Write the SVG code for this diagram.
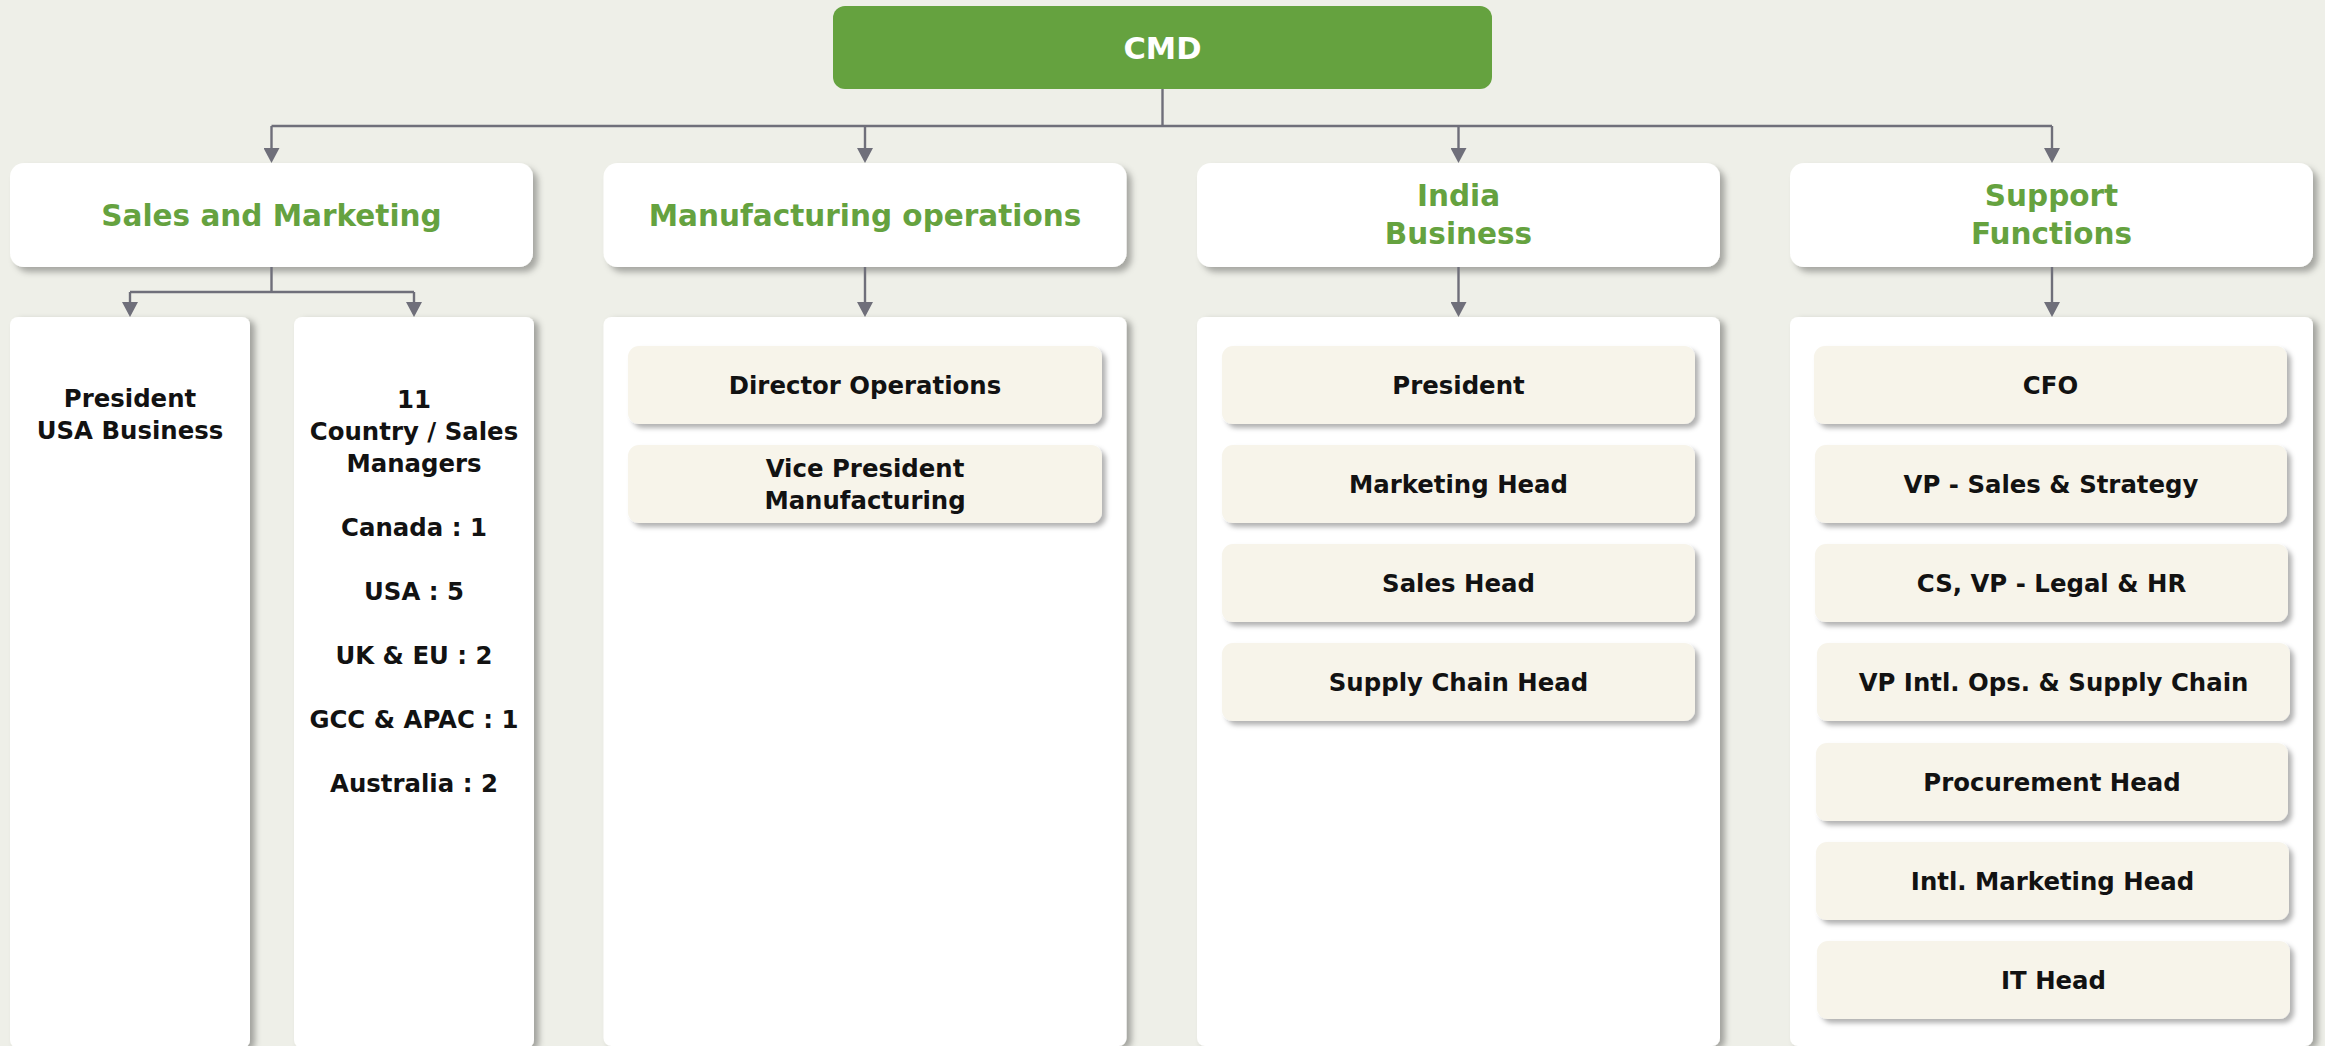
<svg xmlns="http://www.w3.org/2000/svg" width="2325" height="1046" viewBox="0 0 2325 1046">
<defs>
<style>
text{font-family:"DejaVu Sans","Open Sans",sans-serif;font-weight:700;text-anchor:middle}
.hd{fill:#65A23F;font-size:29.5px}
.bd{fill:#121212;font-size:24.4px}
.cmdt{fill:#ffffff;font-size:30.5px}
.hbox{fill:#ffffff;filter:url(#sh)}
.panel{fill:#ffffff;filter:url(#sh2)}
.sub{fill:#F7F4EA;filter:url(#sh3)}
.con path{fill:none;stroke:#6F6F7A;stroke-width:2.4}
.arr{marker-end:url(#arr)}
</style>
<filter id="sh" x="-5%" y="-10%" width="112%" height="130%"><feDropShadow dx="5" dy="5" stdDeviation="3" flood-color="#000" flood-opacity="0.3"/></filter>
<filter id="sh2" x="-5%" y="-2%" width="115%" height="106%"><feDropShadow dx="5" dy="3" stdDeviation="3" flood-color="#000" flood-opacity="0.32"/></filter>
<filter id="sh3" x="-5%" y="-10%" width="112%" height="130%"><feDropShadow dx="4" dy="4" stdDeviation="2.5" flood-color="#000" flood-opacity="0.3"/></filter>
<marker id="arr" viewBox="0 0 15 16" refX="12" refY="8" markerWidth="15" markerHeight="16" markerUnits="userSpaceOnUse" orient="auto"><path d="M0,0 L15,8 L0,16 z" fill="#6F6F7A"/></marker>
</defs>
<rect x="0" y="0" width="2325" height="1046" fill="#EEEFE8"/>

<g id="cmd">
<rect x="833" y="6" width="659" height="83" rx="12" fill="#65A23F"/>
<text class="cmdt" x="1162.5" y="59">CMD</text>
</g>

<g id="sales-marketing">
<rect class="hbox" x="10" y="163" width="523" height="104" rx="14"/>
<text class="hd" x="271.5" y="226">Sales and Marketing</text>
</g>
<g id="manufacturing-operations">
<rect class="hbox" x="603.5" y="163" width="523" height="104" rx="14"/>
<text class="hd" x="865" y="226">Manufacturing operations</text>
</g>
<g id="india-business">
<rect class="hbox" x="1197" y="163" width="523" height="104" rx="14"/>
<text class="hd" x="1458.5" y="206">India<tspan x="1458.5" dy="38">Business</tspan></text>
</g>
<g id="support-functions">
<rect class="hbox" x="1790" y="163" width="523" height="104" rx="14"/>
<text class="hd" x="2051.5" y="206">Support<tspan x="2051.5" dy="38">Functions</tspan></text>
</g>

<g id="president-usa">
<rect class="panel" x="10" y="317" width="240" height="731" rx="8"/>
<text class="bd" x="130" y="407">President<tspan x="130" dy="32">USA Business</tspan></text>
</g>
<g id="country-sales-managers">
<rect class="panel" x="294" y="317" width="240" height="731" rx="8"/>
<text class="bd" x="414" y="408">11<tspan x="414" dy="32">Country / Sales</tspan><tspan x="414" dy="32">Managers</tspan></text>
<text class="bd" x="414" y="536">Canada : 1</text>
<text class="bd" x="414" y="600">USA : 5</text>
<text class="bd" x="414" y="664">UK &amp; EU : 2</text>
<text class="bd" x="414" y="728">GCC &amp; APAC : 1</text>
<text class="bd" x="414" y="792">Australia : 2</text>
</g>

<g id="manufacturing-panel">
<rect class="panel" x="603.5" y="317" width="523" height="729" rx="8"/>
<g id="director-operations">
<rect class="sub" x="628" y="346" width="474" height="78" rx="11"/>
<text class="bd" x="865" y="394">Director Operations</text>
</g>
<g id="vp-manufacturing">
<rect class="sub" x="628" y="445" width="474" height="78" rx="11"/>
<text class="bd" x="865" y="477">Vice President<tspan x="865" dy="32">Manufacturing</tspan></text>
</g>
</g>

<g id="india-panel">
<rect class="panel" x="1197" y="317" width="523" height="729" rx="8"/>
<g id="india-president">
<rect class="sub" x="1222" y="346" width="473" height="78" rx="11"/>
<text class="bd" x="1458.5" y="394">President</text>
</g>
<g id="marketing-head">
<rect class="sub" x="1222" y="445" width="473" height="78" rx="11"/>
<text class="bd" x="1458.5" y="493">Marketing Head</text>
</g>
<g id="sales-head">
<rect class="sub" x="1222" y="544" width="473" height="78" rx="11"/>
<text class="bd" x="1458.5" y="592">Sales Head</text>
</g>
<g id="supply-chain-head">
<rect class="sub" x="1222" y="643" width="473" height="78" rx="11"/>
<text class="bd" x="1458.5" y="691">Supply Chain Head</text>
</g>
</g>

<g id="support-panel">
<rect class="panel" x="1790" y="317" width="523" height="729" rx="8"/>
<g id="cfo">
<rect class="sub" x="1814" y="346" width="473" height="78" rx="11"/>
<text class="bd" x="2050.5" y="394">CFO</text>
</g>
<g id="vp-sales-strategy">
<rect class="sub" x="1815" y="445" width="472" height="78" rx="11"/>
<text class="bd" x="2051" y="493">VP - Sales &amp; Strategy</text>
</g>
<g id="cs-vp-legal-hr">
<rect class="sub" x="1815" y="544" width="473" height="78" rx="11"/>
<text class="bd" x="2051.5" y="592">CS, VP - Legal &amp; HR</text>
</g>
<g id="vp-intl-ops">
<rect class="sub" x="1817" y="643" width="473" height="78" rx="11"/>
<text class="bd" x="2053.5" y="691">VP Intl. Ops. &amp; Supply Chain</text>
</g>
<g id="procurement-head">
<rect class="sub" x="1816" y="743" width="472" height="78" rx="11"/>
<text class="bd" x="2052" y="791">Procurement Head</text>
</g>
<g id="intl-marketing-head">
<rect class="sub" x="1816" y="842" width="473" height="78" rx="11"/>
<text class="bd" x="2052.5" y="890">Intl. Marketing Head</text>
</g>
<g id="it-head">
<rect class="sub" x="1817" y="941" width="473" height="78" rx="11"/>
<text class="bd" x="2053.5" y="989">IT Head</text>
</g>
</g>

<g id="connectors" class="con">
<path d="M1162.5,89 V126"/>
<path d="M271.5,126 H2052"/>
<path class="arr" d="M271.5,126 V160"/>
<path class="arr" d="M865,126 V160"/>
<path class="arr" d="M1458.5,126 V160"/>
<path class="arr" d="M2052,126 V160"/>
<path d="M271.5,267 V292"/>
<path d="M130,292 H414"/>
<path class="arr" d="M130,292 V314"/>
<path class="arr" d="M414,292 V314"/>
<path class="arr" d="M865,267 V314"/>
<path class="arr" d="M1458.5,267 V314"/>
<path class="arr" d="M2052,267 V314"/>
</g>
</svg>
